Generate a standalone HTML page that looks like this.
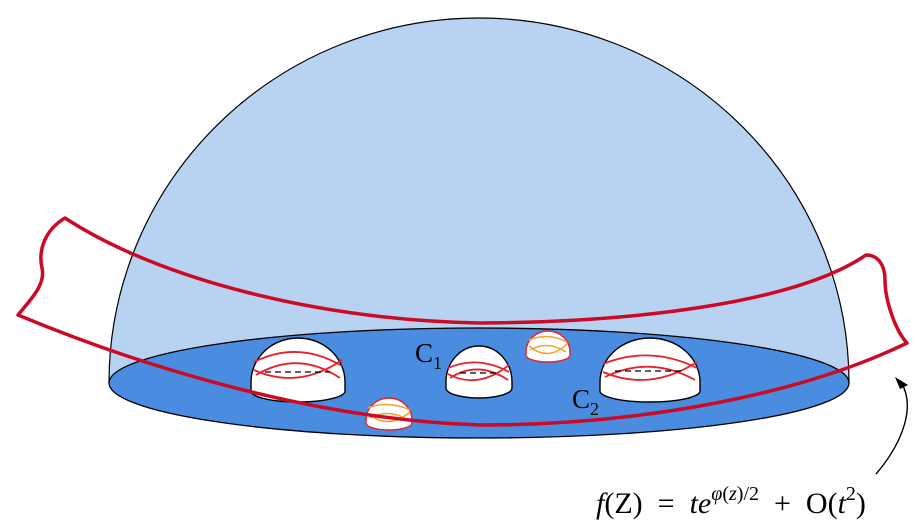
<!DOCTYPE html>
<html><head><meta charset="utf-8"><style>
html,body{margin:0;padding:0;background:#fff;}
svg{display:block;}
</style></head><body>
<svg width="915" height="532" viewBox="0 0 915 532" xmlns="http://www.w3.org/2000/svg">
<path d="M109,383 A370,365 0 0 1 849,383 Z" fill="#b7d3f1" stroke="#000" stroke-width="1.2"/>
<ellipse cx="479" cy="383" rx="370" ry="55" fill="#4a8de0" stroke="#000" stroke-width="1.3"/>
<g>
<path d="M251,382 A47,44 0 0 1 345,382 L345,391 A47,11 0 0 1 251,391 Z" fill="#fff" stroke="#000" stroke-width="1.4"/>
<path d="M254,362 Q298,340 342,366 M254,370 Q298,390 342,360 M256,375 Q298,350 340,378" fill="none" stroke="#e8202a" stroke-width="1.8"/>
<path d="M265,372 H330" stroke="#000" stroke-dasharray="6,4" stroke-width="1.3"/>
</g>
<g>
<path d="M446,382 A33,36 0 0 1 512,382 L512,388 A33,10 0 0 1 446,388 Z" fill="#fff" stroke="#000" stroke-width="1.4"/>
<path d="M448,368 Q478,355 509,372 M448,374 Q478,390 509,365 M450,378 Q478,360 508,380" fill="none" stroke="#e8202a" stroke-width="1.8"/>
<path d="M460,373 H500" stroke="#000" stroke-dasharray="6,4" stroke-width="1.3"/>
</g>
<g>
<path d="M600,382 A50,44 0 0 1 700,382 L700,391 A50,11 0 0 1 600,391 Z" fill="#fff" stroke="#000" stroke-width="1.4"/>
<path d="M603,364 Q650,345 697,368 M603,372 Q650,392 697,362 M605,377 Q650,355 695,380" fill="none" stroke="#e8202a" stroke-width="1.8"/>
<path d="M615,371 H685" stroke="#000" stroke-dasharray="6,4" stroke-width="1.3"/>
</g>
<g>
<path d="M526,352 A22,21 0 0 1 570,352 L570,355 A22,7 0 0 1 526,355 Z" fill="#fff" stroke="#e8202a" stroke-width="1.4"/>
<path d="M529,340 Q548,332 567,342 M529,346 Q548,362 567,344 M530,350 Q548,340 566,352" fill="none" stroke="#f2a52a" stroke-width="1.5"/>
</g>
<g>
<path d="M366,420 A23,22 0 0 1 412,420 L412,423 A23,7 0 0 1 366,423 Z" fill="#fff" stroke="#e8202a" stroke-width="1.4"/>
<path d="M368,408 Q389,400 410,410 M368,414 Q389,430 410,412 M370,418 Q389,408 408,420" fill="none" stroke="#f2a52a" stroke-width="1.5"/>
</g>
<path d="M65,218 C45,230 38,250 42,268 C46,285 30,300 18,315 C150,370 320,420 480,425 C640,425 800,395 907,343 C895,330 885,300 885,280 C885,265 878,255 866,255 C800,300 650,322 480,323 C320,320 160,280 65,218 Z" fill="none" stroke="#cc0a25" stroke-width="3.5" stroke-linejoin="round"/>
<text x="415" y="362" font-family="Liberation Serif, serif" font-size="27">C<tspan font-size="18" dy="7">1</tspan></text>
<text x="572" y="408" font-family="Liberation Serif, serif" font-size="27">C<tspan font-size="18" dy="7">2</tspan></text>
<path d="M876,474 C905,440 915,405 901,382" fill="none" stroke="#000" stroke-width="1.4"/>
<path d="M895,377 L908,385 L900,389 Z" fill="#000"/>
<text x="596" y="513" xml:space="preserve" font-family="Liberation Serif, serif" font-size="30"><tspan font-style="italic">f</tspan>(Z)  =  <tspan font-style="italic">te</tspan><tspan font-size="20" dy="-13"><tspan font-style="italic">φ</tspan>(<tspan font-style="italic">z</tspan>)/2</tspan><tspan dy="13">  +  O(</tspan><tspan font-style="italic">t</tspan><tspan font-size="20" dy="-13">2</tspan><tspan dy="13">)</tspan></text>
</svg>
</body></html>
